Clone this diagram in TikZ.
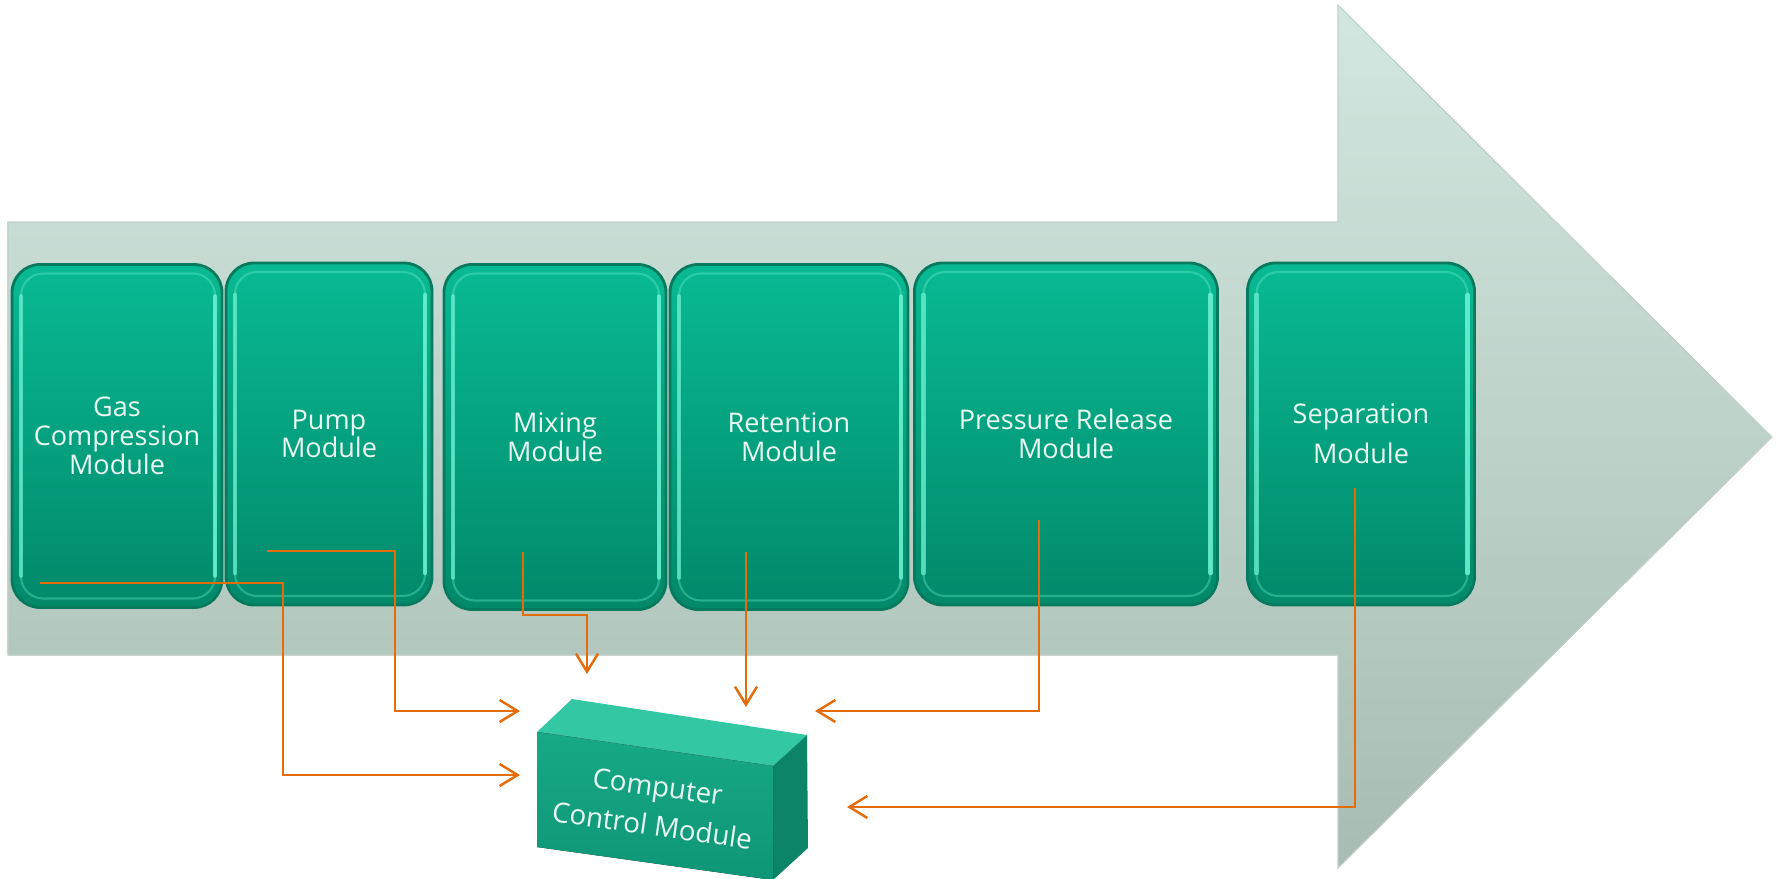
\documentclass[tikz,border=0pt]{standalone}
\usepackage{fontspec}
\setmainfont{Open Sans}
\usetikzlibrary{arrows.meta}
\definecolor{arrTop}{HTML}{D2E7DF}
\definecolor{arrBot}{HTML}{A8BCB3}
\definecolor{modTop}{HTML}{08BA93}
\definecolor{modBot}{HTML}{02896A}
\definecolor{modEdge}{HTML}{077A5E}
\definecolor{modLight}{HTML}{6EF2D2}
\definecolor{conOr}{HTML}{E46C0A}
\definecolor{txtW}{HTML}{EAF8F3}
\definecolor{boxFront}{HTML}{17A986}
\definecolor{boxFrontB}{HTML}{0E9676}
\definecolor{boxTop}{HTML}{33C8A3}
\definecolor{boxSide}{HTML}{0B8467}
\tikzset{
  module/.style={draw=modEdge, line width=0.8pt, rounded corners=2.8mm,
    top color=modTop, bottom color=modBot, text=txtW, align=center,
    font=\fontsize{7.7}{8.2}\selectfont,
    path picture={
      \draw[modLight, line width=1.3pt, opacity=0.7, line cap=round]
        ([shift={(0.9mm,-3.2mm)}]path picture bounding box.north west) --
        ([shift={(0.9mm,3.2mm)}]path picture bounding box.south west);
      \draw[modLight, line width=1.3pt, opacity=0.85, line cap=round]
        ([shift={(-0.7mm,-3.2mm)}]path picture bounding box.north east) --
        ([shift={(-0.7mm,3.2mm)}]path picture bounding box.south east);
      \draw[modLight, line width=0.6pt, opacity=0.35, rounded corners=2.2mm]
        ([shift={(0.9mm,-0.9mm)}]path picture bounding box.north west) rectangle
        ([shift={(-0.7mm,0.9mm)}]path picture bounding box.south east);}},
  conn/.style={draw=conOr, line width=0.7pt, -{Straight Barb[length=1.8mm,width=2.2mm]}}
}
\begin{document}
\begin{tikzpicture}[x=0.1mm,y=-0.1mm]
\useasboundingbox (0,0) rectangle (1778,879);
% big arrow
\fill[top color=arrTop, bottom color=arrBot, draw=arrBot!70!white, line width=0.3pt]
  (8,222) -- (1338,222) -- (1338,5) -- (1772,437) -- (1338,868) -- (1338,655) -- (8,655) -- cycle;
% modules
\node[module, minimum width=21mm, minimum height=34.3mm] (gas) at (117,436) {Gas\\Compression\\Module};
\node[module, minimum width=20.6mm, minimum height=34.2mm] (pump) at (329,434) {Pump\\Module};
\node[module, minimum width=22.2mm, minimum height=34.5mm] (mix) at (555,437) {Mixing\\Module};
\node[module, minimum width=23.8mm, minimum height=34.5mm] (ret) at (789,437) {Retention\\Module};
\node[module, minimum width=30.3mm, minimum height=34.2mm] (pres) at (1066,434) {Pressure Release\\Module};
\node[module, minimum width=22.7mm, minimum height=34.2mm] (sep) at (1361,434) {Separation\\[1.1mm]Module};
% computer control module (3D box)
\fill[boxTop] (537,732) -- (572,699) -- (807,735) -- (773,766) -- cycle;
\fill[boxSide] (773,766) -- (807,735) -- (808,848) -- (773,880) -- cycle;
\fill[top color=boxFront, bottom color=boxFrontB] (537,732) -- (773,766) -- (773,880) -- (537,847) -- cycle;
\node[rotate=-8, text=txtW, align=center, font=\fontsize{7.9}{11.2}\selectfont] (ccm) at (655,806) {Computer\\Control Module};
% connector end points
\coordinate (gs) at (40,583);
\coordinate (ge) at (520,775);
\coordinate (ps) at (267,551);
\coordinate (pe) at (520,711);
\coordinate (ms) at (523,552);
\coordinate (me) at (587,674);
\coordinate (rs) at (746,552);
\coordinate (re) at (746,707);
\coordinate (xs) at (1039,520);
\coordinate (xe) at (815,711);
\coordinate (ss) at (1355,488);
\coordinate (se) at (847,807);
% connectors
\draw[conn] (gs) -- (283,583) -- (283,775) -- (ge);
\draw[conn] (ps) -- (395,551) -- (395,711) -- (pe);
\draw[conn] (ms) -- (523,615) -- (587,615) -- (me);
\draw[conn] (rs) -- (re);
\draw[conn] (xs) -- (1039,711) -- (xe);
\draw[conn] (ss) -- (1355,807) -- (se);
\end{tikzpicture}
\end{document}
